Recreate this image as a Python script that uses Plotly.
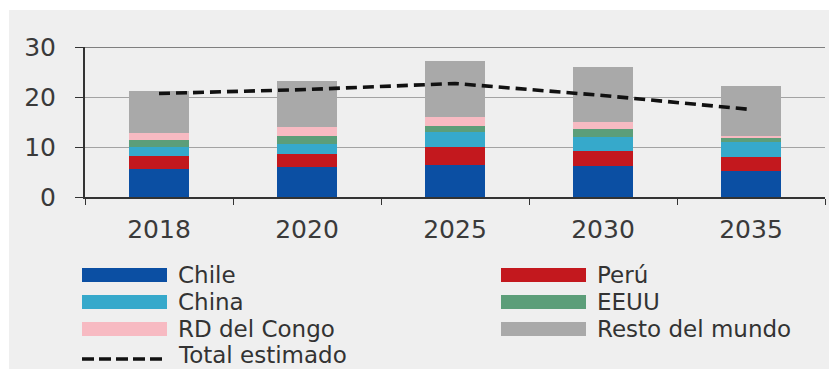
import plotly.graph_objects as go

# Producción estimada por país (apilada) y total estimado
years = ["2018", "2020", "2025", "2030", "2035"]
chile = [5.7, 6.1, 6.5, 6.2, 5.2]
peru = [2.6, 2.6, 3.5, 3.0, 2.8]
china = [1.7, 2.0, 3.0, 2.8, 3.0]
eeuu = [1.5, 1.6, 1.3, 1.7, 0.9]
rd_congo = [1.3, 1.7, 1.8, 1.3, 0.4]
resto = [8.5, 9.3, 11.2, 11.0, 10.0]
total_estimado = [20.7, 21.5, 22.7, 20.3, 17.5]
y_ticks = [0, 10, 20, 30]

series_names = ["Chile", "Perú", "China", "EEUU", "RD del Congo", "Resto del mundo"]
series_values = [chile, peru, china, eeuu, rd_congo, resto]
series_colors = ["#0b4fa3", "#c3181e", "#36a9cb", "#5c9e79", "#f7bac2", "#a9a9a9"]
line_name = "Total estimado"

W, H = 829, 369
L, R, T, B = 85, 4, 47, 172
plot_w = W - L - R
plot_h = H - T - B


def px_x(px):
    return (px - L) / plot_w


def px_y(py):
    return (H - B - py) / plot_h


fig = go.Figure()
for name, vals, col in zip(series_names, series_values, series_colors):
    fig.add_trace(go.Bar(x=years, y=vals, name=name, marker=dict(color=col, line=dict(width=0)),
                         width=0.4, showlegend=False))

fig.add_trace(go.Scatter(x=years, y=total_estimado, mode="lines", name=line_name,
                         line=dict(color="#111111", width=3.6, dash="11px,6px"),
                         showlegend=False))

shapes = [
    # page background with a thin white margin at top/left
    dict(type="rect", xref="paper", yref="paper", x0=px_x(9), x1=px_x(W + 5),
         y0=px_y(H + 5), y1=px_y(10), fillcolor="#efefef", line=dict(width=0), layer="below"),
    # top line at 30
    dict(type="line", xref="paper", yref="y", x0=0, x1=1, y0=30, y1=30,
         line=dict(color="#5a5a5a", width=1.5), layer="below"),
]

annotations = []
legend_font = dict(family="DejaVu Sans", size=23, color="#333333")
col_x = [82, 501]
row_y = [275, 302, 329]
sw_w, sw_h, text_gap = 85, 14, 9
for i, (name, col) in enumerate(zip(series_names, series_colors)):
    cx = col_x[i % 2]
    cy = row_y[i // 2]
    shapes.append(dict(type="rect", xref="paper", yref="paper",
                       x0=px_x(cx), x1=px_x(cx + sw_w),
                       y0=px_y(cy + sw_h / 2), y1=px_y(cy - sw_h / 2),
                       fillcolor=col, line=dict(width=0)))
    annotations.append(dict(xref="paper", yref="paper", x=px_x(cx + sw_w + text_gap), y=px_y(cy),
                            xanchor="left", yanchor="middle", text=name, showarrow=False,
                            font=legend_font))

line_row_y = 359
shapes.append(dict(type="line", xref="paper", yref="paper",
                   x0=px_x(col_x[0]), x1=px_x(col_x[0] + sw_w),
                   y0=px_y(line_row_y), y1=px_y(line_row_y),
                   line=dict(color="#111111", width=3.6, dash="12px,5px")))
annotations.append(dict(xref="paper", yref="paper", x=px_x(col_x[0] + sw_w + text_gap),
                        y=px_y(355), xanchor="left", yanchor="middle",
                        text=line_name, showarrow=False, font=legend_font))

fig.update_layout(
    width=W, height=H,
    margin=dict(l=L, r=R, t=T, b=B, pad=0),
    barmode="stack",
    bargap=0.6,
    paper_bgcolor="#ffffff",
    plot_bgcolor="rgba(0,0,0,0)",
    showlegend=False,
    shapes=shapes,
    annotations=annotations,
    xaxis=dict(
        type="category",
        showline=True, linecolor="#333333", linewidth=1.5,
        ticks="outside", tickson="boundaries", ticklen=6, tickcolor="#333333", tickwidth=1.2,
        tickfont=dict(family="DejaVu Sans", size=25, color="#3a3a3a"),
        ticklabelstandoff=9,
        showgrid=False,
    ),
    yaxis=dict(
        range=[0, 30],
        tickvals=y_ticks,
        showline=True, linecolor="#333333", linewidth=2,
        ticks="outside", ticklen=8, tickcolor="#333333", tickwidth=1.2,
        tickfont=dict(family="DejaVu Sans", size=25, color="#3a3a3a"),
        ticklabelstandoff=14,
        showgrid=True, gridcolor="#a3a3a3", gridwidth=1,
        zeroline=False,
    ),
)

fig.write_html("out.html")
